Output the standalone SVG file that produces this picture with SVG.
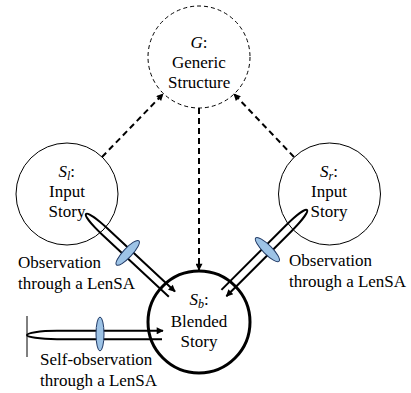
<svg xmlns="http://www.w3.org/2000/svg" width="411" height="393" viewBox="0 0 411 393">
  <style>
    .node { fill: #ffffff; stroke: #000000; stroke-width: 1; }
    .generic { stroke-dasharray: 4 3; }
    .blend { stroke-width: 3; }
    .note { font-family: "Liberation Serif", "Times New Roman", serif; font-size: 17px; fill: #000000; }
    .math { font-style: italic; }
    .dash { fill: none; stroke: #000000; stroke-width: 2; stroke-dasharray: 6 4; marker-end: url(#head); }
    .loop { fill: none; stroke: #000000; stroke-width: 2; marker-end: url(#head); }
    .lens { fill: #9dc3e6; stroke: #1f3864; stroke-width: 1; }
  </style>
  <defs>
    <marker id="head" viewBox="0 0 10 10" refX="9" refY="5" markerWidth="9" markerHeight="7" markerUnits="userSpaceOnUse" orient="auto">
      <path d="M0,0 L10,5 L0,10 z" fill="#000000"/>
    </marker>
    <!-- narrow hairpin loop, tip at origin, running along +x -->
    <path id="loop-short" d="M117,4 L26,4 C10,4 0,2 0,0 C0,-2 10,-4 26,-4 L118,-4"/>
  </defs>

  <rect width="411" height="393" fill="#ffffff"/>

  <g id="generic-structure">
    <circle class="node generic" cx="199" cy="57" r="51"/>
    <text class="note" x="190.5" y="48"><tspan class="math">G</tspan>:</text>
    <text class="note" x="172" y="68">Generic</text>
    <text class="note" x="168" y="88">Structure</text>
  </g>

  <g id="input-story-l">
    <circle class="node" cx="67" cy="194" r="51"/>
    <text class="note" x="58.5" y="177"><tspan class="math">S</tspan><tspan class="math" font-size="12" dy="3">l</tspan><tspan dy="-3">:</tspan></text>
    <text class="note" x="49" y="197">Input</text>
    <text class="note" x="48.6" y="217">Story</text>
  </g>

  <g id="input-story-r">
    <circle class="node" cx="329.5" cy="194" r="51"/>
    <text class="note" x="320" y="177"><tspan class="math">S</tspan><tspan class="math" font-size="12" dy="3">r</tspan><tspan dy="-3">:</tspan></text>
    <text class="note" x="311" y="197">Input</text>
    <text class="note" x="310.6" y="217">Story</text>
  </g>

  <g id="blended-story">
    <circle class="node blend" cx="199" cy="322" r="51"/>
    <text class="note" x="189.4" y="305"><tspan class="math">S</tspan><tspan class="math" font-size="12" dy="3">b</tspan><tspan dy="-3">:</tspan></text>
    <text class="note" x="170.7" y="327">Blended</text>
    <text class="note" x="180.6" y="347">Story</text>
  </g>

  <g id="connectors">
    <!-- input stories to generic structure -->
    <line class="dash" x1="102" y1="157" x2="163" y2="94"/>
    <line class="dash" x1="294" y1="157" x2="234" y2="94"/>
    <!-- generic structure to blended story -->
    <line class="dash" x1="199" y1="108" x2="199" y2="270"/>

    <!-- observation from S_l -->
    <g transform="translate(86,214) rotate(43)">
      <use href="#loop-short" class="loop"/>
      <ellipse class="lens" cx="57" cy="0" rx="4.5" ry="16.5"/>
    </g>
    <!-- observation from S_r -->
    <g transform="translate(307,210) rotate(135)">
      <use href="#loop-short" class="loop"/>
      <ellipse class="lens" cx="56" cy="0" rx="4.5" ry="16.5"/>
    </g>
    <!-- self-observation of S_b -->
    <line x1="27" y1="316" x2="27" y2="357" stroke="#000000" stroke-width="1"/>
    <g transform="translate(27,335)">
      <path class="loop" d="M135,4.2 L30,4.2 C12,4.2 0,2 0,0 C0,-2 12,-4.2 30,-4.2 L136,-4.2"/>
      <ellipse class="lens" cx="73" cy="-1" rx="4" ry="17"/>
    </g>
  </g>

  <g id="labels">
    <text class="note" x="18" y="268">Observation</text>
    <text class="note" x="18" y="289">through a LenSA</text>
    <text class="note" x="289" y="266">Observation</text>
    <text class="note" x="289" y="287">through a LenSA</text>
    <text class="note" x="40" y="365">Self-observation</text>
    <text class="note" x="40" y="386">through a LenSA</text>
  </g>
</svg>
